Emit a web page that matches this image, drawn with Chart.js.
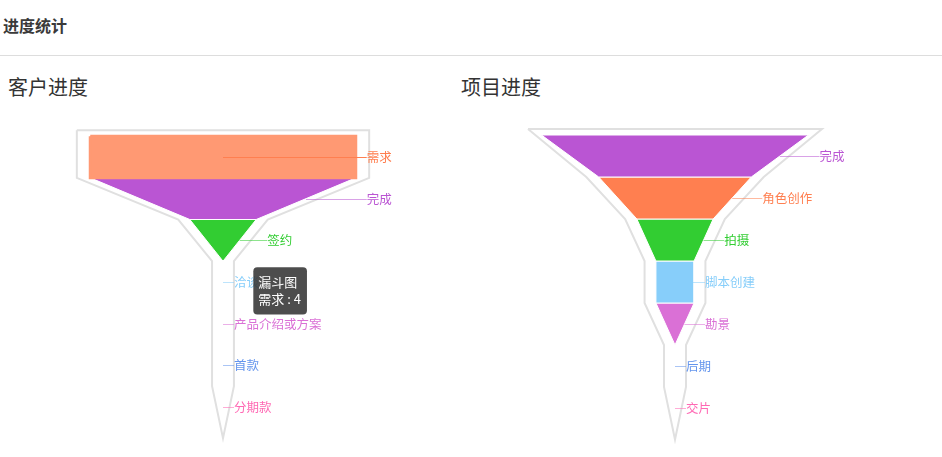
<!DOCTYPE html>
<html><head><meta charset="utf-8">
<script src="https://cdn.jsdelivr.net/npm/chart.js@4.4.1/dist/chart.umd.min.js"></script>
<style>
html,body{margin:0;padding:0;background:#fff;width:942px;height:457px;overflow:hidden;position:relative;font-family:"Noto Sans CJK SC",sans-serif;}
#head{position:absolute;left:3px;top:15px;font-size:16px;font-weight:bold;color:#3a3a3a;line-height:20px;white-space:nowrap;}
#rule{position:absolute;left:0;top:55px;width:942px;height:1px;background:#dddddd;}
.sub{position:absolute;top:76px;font-size:20px;color:#333;line-height:22px;white-space:nowrap;}
canvas{position:absolute;}
</style></head><body>
<div id="head">进度统计</div>
<div id="rule"></div>
<div class="sub" style="left:8px">客户进度</div>
<div class="sub" style="left:461px">项目进度</div>
<canvas id="c1" width="534" height="378" style="left:-44px;top:93px"></canvas>
<canvas id="c2" width="534" height="378" style="left:408px;top:93px"></canvas>
<script>
// ---- data ----
const seriesName = '漏斗图';
const customerStages = ['需求', '完成', '签约', '洽谈', '产品介绍或方案', '首款', '分期款'];
const customerCounts = [4, 4, 1, 0, 0, 0, 0];
const projectStages = ['完成', '角色创作', '拍摄', '脚本创建', '勘景', '后期', '交片'];
const projectCounts = [7, 4, 2, 1, 1, 0, 0];
const customerColors = ['#ff7f50', '#ba55d3', '#32cd32', '#87cefa', '#da70d6', '#6495ed', '#ff69b4'];
const projectColors = ['#ba55d3', '#ff7f50', '#32cd32', '#87cefa', '#da70d6', '#6495ed', '#ff69b4'];
const customerHovered = 0;   // stage under the mouse (tooltip shown)

// ---- style ----
const FONT = '"Noto Sans CJK SC", "Noto Sans", sans-serif';
Chart.defaults.font.family = FONT;
const FRAME_MIN = 11 / 133.5;   // frame half width at a zero stage (in max-half units)
const FRAME_MAX = 147 / 133.5;  // frame half width at the max stage
const FRAME_TOP = 6 / 42;       // frame extends above first stage (rows)
const FRAME_BOTTOM = 10.5 / 42; // frame extends below last stage (rows)
const FRAME_COLOR = '#e0e0e0';
const TOOLTIP_ANCHOR = {x: 0.257, y: 3.15};

function rgba(hex, a) {
  const n = parseInt(hex.slice(1), 16);
  return `rgba(${n >> 16},${(n >> 8) & 255},${n & 255},${a})`;
}
function lighten(hex, t) {
  const n = parseInt(hex.slice(1), 16);
  const c = [n >> 16, (n >> 8) & 255, n & 255].map(v => Math.round(v + (255 - v) * t));
  return `rgb(${c[0]},${c[1]},${c[2]})`;
}

Chart.Tooltip.positioners.funnelAnchor = function () {
  const xs = this.chart.scales.x, ys = this.chart.scales.y;
  return {x: xs.getPixelForValue(TOOLTIP_ANCHOR.x), y: ys.getPixelForValue(TOOLTIP_ANCHOR.y)};
};

const funnelLabels = {
  id: 'funnelLabels',
  afterDatasetsDraw(chart, args, opts) {
    const {ctx} = chart;
    const xs = chart.scales.x, ys = chart.scales.y;
    const {stages, values, colors, hovered} = opts;
    const max = Math.max(...values);
    ctx.save();
    ctx.font = '12.5px ' + FONT;
    ctx.textBaseline = 'middle';
    ctx.textAlign = 'left';
    for (let k = 0; k < stages.length; k++) {
      const top = values[k] / max;
      const bot = k + 1 < values.length ? values[k + 1] / max : 0;
      const yc = Math.round(ys.getPixelForValue(k + 0.5)) + 0.5;
      const topPx = xs.getPixelForValue(top);
      const botPx = xs.getPixelForValue(bot);
      const start = top === bot ? xs.getPixelForValue(0) : (topPx + botPx) / 2;
      const textX = topPx + 11;
      ctx.strokeStyle = k === hovered ? colors[k] : rgba(colors[k], 0.55);
      ctx.lineWidth = 1;
      ctx.beginPath();
      ctx.moveTo(start, yc);
      ctx.lineTo(textX, yc);
      ctx.stroke();
      ctx.fillStyle = colors[k];
      ctx.fillText(stages[k], textX, yc);
    }
    ctx.restore();
  }
};

function makeFunnel(id, stages, values, colors, hovered) {
  const max = Math.max(...values);
  const n = values.length;
  const datasets = [];
  for (let k = 0; k < n; k++) {
    const top = values[k] / max;
    const bot = k + 1 < n ? values[k + 1] / max : 0;
    const pts = (top === 0 && bot === 0) ? [] : [
      {x: -top, y: k}, {x: top, y: k}, {x: bot, y: k + 1}, {x: -bot, y: k + 1}, {x: -top, y: k}
    ];
    const isHover = k === hovered;
    datasets.push({
      label: stages[k],
      funnelValue: values[k],
      data: pts,
      fill: 'shape',
      backgroundColor: isHover ? lighten(colors[k], 0.2) : colors[k],
      borderColor: isHover ? lighten(colors[k], 0.2) : '#ffffff',
      borderWidth: isHover ? 3 : 1,
      pointRadius: 0,
      pointHitRadius: 0,
      tension: 0,
      order: isHover ? 0 : 1,
      clip: false
    });
  }
  const f = v => FRAME_MIN + (FRAME_MAX - FRAME_MIN) * v / max;
  const left = [{x: -f(values[0]), y: -FRAME_TOP}];
  for (let k = 1; k < n; k++) left.push({x: -f(values[k]), y: k});
  const right = left.slice().reverse().map(p => ({x: -p.x, y: p.y}));
  const frame = left.concat([{x: 0, y: n + FRAME_BOTTOM}], right, [left[0]]);
  datasets.push({
    label: 'frame',
    data: frame,
    fill: false,
    borderColor: FRAME_COLOR,
    borderWidth: 2,
    borderJoinStyle: 'miter',
    pointRadius: 0,
    pointHitRadius: 0,
    tension: 0,
    order: 2,
    clip: false
  });

  const chart = new Chart(document.getElementById(id), {
    type: 'line',
    data: {datasets},
    options: {
      indexAxis: 'y',
      responsive: false,
      animation: false,
      events: [],
      layout: {padding: 0},
      scales: {
        x: {type: 'linear', min: -2, max: 2, display: false},
        y: {type: 'linear', min: -1, max: 8, reverse: true, display: false}
      },
      plugins: {
        legend: {display: false},
        title: {display: false},
        funnelLabels: {stages, values, colors, hovered},
        tooltip: {
          enabled: true,
          position: 'funnelAnchor',
          xAlign: 'left',
          yAlign: 'top',
          caretSize: 0,
          caretPadding: 0,
          cornerRadius: 4,
          backgroundColor: 'rgba(50,50,50,0.87)',
          titleColor: '#fff',
          bodyColor: '#fff',
          displayColors: false,
          titleFont: {family: FONT, size: 13, weight: 'normal'},
          bodyFont: {family: FONT, size: 13, weight: 'normal'},
          padding: {top: 7, bottom: 8, left: 5, right: 6},
          titleMarginBottom: 1,
          callbacks: {
            title: () => seriesName,
            label: c => c.dataset.label + ' : ' + c.dataset.funnelValue
          }
        }
      }
    },
    plugins: [funnelLabels]
  });
  return chart;
}

const chart1 = makeFunnel('c1', customerStages, customerCounts, customerColors, customerHovered);
const chart2 = makeFunnel('c2', projectStages, projectCounts, projectColors, -1);
chart1.tooltip.setActiveElements([{datasetIndex: customerHovered, index: 0}], {x: 0, y: 0});
chart1.update();
</script>
</body></html>
